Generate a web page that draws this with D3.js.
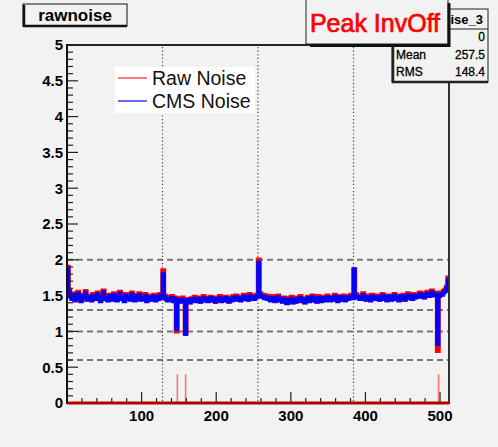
<!DOCTYPE html>
<html>
<head>
<meta charset="utf-8">
<script src="https://cdn.jsdelivr.net/npm/d3@7"></script>
<style>
  body { margin: 0; background: #f2f2f2; }
  svg { display: block; font-family: "Liberation Sans", Arial, sans-serif; }
</style>
</head>
<body>
<svg width="498" height="447"></svg>
<script>
// each bin covers 2 strips (512 strips -> 256 bins)
let binWidth = 2;
let rawNoise = [
  1.90, 1.58, 1.50, 1.46, 1.53, 1.44, 1.49, 1.55, 1.47, 1.43, 1.51, 1.48, 1.56, 1.45, 1.50, 1.47,
  1.44, 1.52, 1.49, 1.46, 1.54, 1.47, 1.43, 1.50, 1.57, 1.46, 1.49, 1.44, 1.51, 1.48, 1.45, 1.53,
  1.48, 1.44, 1.50, 1.55, 1.46, 1.49, 1.43, 1.52, 1.47, 1.50, 1.45, 1.54, 1.48, 1.44, 1.51, 1.47,
  1.53, 1.45, 1.49, 1.46, 1.52, 1.43, 1.48, 1.50, 1.45, 1.47, 1.51, 1.44, 1.49, 1.46, 1.52, 1.48,
  1.85, 1.50, 1.46, 1.44, 1.48, 1.45, 1.49, 1.43, 1.47, 1.00, 1.46, 1.42, 1.44, 1.47, 1.43, 0.98,
  1.42, 1.45, 1.41, 1.46, 1.44, 1.48, 1.43, 1.47, 1.45, 1.42, 1.46, 1.49, 1.44, 1.47, 1.43, 1.46,
  1.48, 1.44, 1.46, 1.42, 1.47, 1.45, 1.49, 1.43, 1.46, 1.44, 1.48, 1.45, 1.42, 1.47, 1.44, 1.49,
  1.46, 1.50, 1.45, 1.48, 1.44, 1.47, 1.51, 1.46, 1.49, 1.45, 1.52, 1.47, 1.50, 1.46, 1.49, 1.51,
  2.00, 1.53, 1.49, 1.51, 1.47, 1.50, 1.46, 1.48, 1.44, 1.49, 1.45, 1.43, 1.47, 1.50, 1.44, 1.46,
  1.42, 1.47, 1.44, 1.40, 1.46, 1.43, 1.48, 1.41, 1.45, 1.42, 1.47, 1.44, 1.49, 1.43, 1.46, 1.41,
  1.45, 1.48, 1.43, 1.46, 1.50, 1.44, 1.47, 1.42, 1.49, 1.45, 1.43, 1.48, 1.46, 1.44, 1.50, 1.47,
  1.44, 1.48, 1.45, 1.51, 1.46, 1.43, 1.49, 1.47, 1.45, 1.50, 1.44, 1.48, 1.46, 1.49, 1.51, 1.47,
  1.86, 1.52, 1.48, 1.50, 1.46, 1.49, 1.53, 1.47, 1.45, 1.50, 1.48, 1.44, 1.51, 1.47, 1.49, 1.46,
  1.50, 1.45, 1.48, 1.52, 1.46, 1.49, 1.44, 1.50, 1.47, 1.45, 1.49, 1.52, 1.46, 1.48, 1.44, 1.50,
  1.47, 1.51, 1.45, 1.49, 1.53, 1.47, 1.50, 1.46, 1.52, 1.48, 1.51, 1.49, 1.54, 1.50, 1.53, 1.48,
  1.52, 1.55, 1.50, 1.53, 1.57, 1.51, 1.54, 1.52, 0.73, 1.50, 1.54, 1.52, 1.56, 1.58, 1.62, 1.75
];
let cmsNoise = [
  1.87, 1.55, 1.48, 1.45, 1.51, 1.43, 1.47, 1.53, 1.46, 1.42, 1.49, 1.47, 1.54, 1.44, 1.48, 1.46,
  1.43, 1.50, 1.48, 1.45, 1.52, 1.46, 1.42, 1.48, 1.55, 1.45, 1.47, 1.43, 1.50, 1.47, 1.44, 1.51,
  1.47, 1.43, 1.48, 1.53, 1.45, 1.47, 1.42, 1.50, 1.46, 1.48, 1.44, 1.52, 1.47, 1.43, 1.49, 1.46,
  1.51, 1.44, 1.47, 1.45, 1.50, 1.42, 1.47, 1.48, 1.44, 1.46, 1.49, 1.43, 1.48, 1.45, 1.50, 1.47,
  1.80, 1.48, 1.45, 1.43, 1.46, 1.44, 1.47, 1.42, 1.46, 1.03, 1.44, 1.41, 1.43, 1.45, 1.42, 0.96,
  1.41, 1.44, 1.40, 1.45, 1.43, 1.46, 1.42, 1.46, 1.44, 1.41, 1.45, 1.47, 1.43, 1.46, 1.42, 1.45,
  1.47, 1.43, 1.45, 1.41, 1.46, 1.44, 1.47, 1.42, 1.45, 1.43, 1.47, 1.44, 1.41, 1.46, 1.43, 1.47,
  1.45, 1.48, 1.44, 1.47, 1.43, 1.46, 1.49, 1.45, 1.48, 1.44, 1.50, 1.46, 1.48, 1.45, 1.47, 1.49,
  1.96, 1.51, 1.48, 1.49, 1.46, 1.48, 1.45, 1.47, 1.43, 1.47, 1.44, 1.42, 1.46, 1.48, 1.43, 1.45,
  1.41, 1.46, 1.43, 1.39, 1.45, 1.42, 1.46, 1.40, 1.44, 1.41, 1.46, 1.43, 1.47, 1.42, 1.45, 1.40,
  1.44, 1.47, 1.42, 1.45, 1.48, 1.43, 1.46, 1.41, 1.47, 1.44, 1.42, 1.47, 1.45, 1.43, 1.48, 1.46,
  1.43, 1.47, 1.44, 1.49, 1.45, 1.42, 1.48, 1.46, 1.44, 1.48, 1.43, 1.47, 1.45, 1.48, 1.49, 1.46,
  1.87, 1.50, 1.47, 1.48, 1.45, 1.48, 1.51, 1.46, 1.44, 1.48, 1.47, 1.43, 1.49, 1.46, 1.48, 1.45,
  1.48, 1.44, 1.47, 1.50, 1.45, 1.48, 1.43, 1.49, 1.46, 1.44, 1.48, 1.50, 1.45, 1.47, 1.43, 1.49,
  1.46, 1.49, 1.44, 1.48, 1.51, 1.46, 1.49, 1.45, 1.50, 1.47, 1.49, 1.48, 1.52, 1.49, 1.51, 1.47,
  1.51, 1.53, 1.49, 1.52, 1.55, 1.50, 1.52, 1.51, 0.82, 1.49, 1.52, 1.51, 1.54, 1.56, 1.60, 1.72
];
// flagged strips drawn as thin bars at the bottom
let flagStrips = [148, 159, 498];
let flagHeight = 0.4;
let baselineValue = 0;
// dashed horizontal reference levels, dotted vertical chip boundaries
let hLevels = [2, 1.3, 1, 0.6];
let vLevels = [128, 256, 384];
let xTickLabels = [100, 200, 300, 400, 500];
let yTickLabels = [0, 0.5, 1, 1.5, 2, 2.5, 3, 3.5, 4, 4.5, 5];
let legendLabels = ["Raw Noise", "CMS Noise"];
let statsRows = [["Entries", "0"], ["Mean", "257.5"], ["RMS", "148.4"]];

let svg = d3.select("svg");
let plotLeft = 67, plotRight = 449, plotTop = 45, plotBottom = 403;

let x = d3.scaleLinear().domain([0, 512]).range([plotLeft, plotRight]);
let y = d3.scaleLinear().domain([0, 5]).range([plotBottom, plotTop]);

// frame
svg.append("rect").attr("x", plotLeft).attr("y", plotTop)
  .attr("width", plotRight - plotLeft).attr("height", plotBottom - plotTop)
  .attr("fill", "#f2f2f2");

// grid
svg.selectAll(".hgrid").data(hLevels).enter().append("line")
  .attr("x1", plotLeft).attr("x2", plotRight)
  .attr("y1", d => y(d)).attr("y2", d => y(d))
  .attr("stroke", "#777").attr("stroke-width", 2).attr("stroke-dasharray", "6,4");
svg.selectAll(".vgrid").data(vLevels).enter().append("line")
  .attr("x1", d => x(d)).attr("x2", d => x(d))
  .attr("y1", plotTop + 2).attr("y2", plotBottom)
  .attr("stroke", "#444").attr("stroke-width", 1.2).attr("stroke-dasharray", "1.2,2.4");

// histogram helper: step outline over bins
function histPoints(vals) {
  let pts = [];
  vals.forEach(function(v, i) {
    pts.push([i * binWidth, v]);
    pts.push([(i + 1) * binWidth, v]);
  });
  return pts;
}
let line = d3.line().x(d => x(d[0])).y(d => y(d[1]));

svg.append("path").datum(histPoints(rawNoise)).attr("d", line)
  .attr("fill", "none").attr("stroke", "#ff0000").attr("stroke-width", 4.4)
  .attr("stroke-linejoin", "miter");
svg.append("path").datum(histPoints(cmsNoise)).attr("d", line)
  .attr("fill", "none").attr("stroke", "#0000ff").attr("stroke-width", 3.6)
  .attr("stroke-linejoin", "miter");

// flagged strips
svg.selectAll(".flag").data(flagStrips).enter().append("line")
  .attr("x1", d => x(d)).attr("x2", d => x(d))
  .attr("y1", y(0)).attr("y2", y(flagHeight))
  .attr("stroke", "#ff7070").attr("stroke-width", 1.6);

// axes frame lines
svg.append("line").attr("x1", plotLeft).attr("x2", plotRight).attr("y1", plotTop).attr("y2", plotTop)
  .attr("stroke", "#222").attr("stroke-width", 2);
svg.append("line").attr("x1", plotRight).attr("x2", plotRight).attr("y1", plotTop - 1).attr("y2", plotBottom + 1)
  .attr("stroke", "#333").attr("stroke-width", 2);
svg.append("line").attr("x1", plotLeft).attr("x2", plotLeft).attr("y1", plotTop - 1).attr("y2", plotBottom + 1)
  .attr("stroke", "#111").attr("stroke-width", 2);

// y ticks (inside frame)
let yMinor = d3.range(0, 50).map(d => d / 10);
svg.selectAll(".ymin").data(yMinor).enter().append("line")
  .attr("x1", plotLeft).attr("x2", d => plotLeft + (Math.abs(d * 2 - Math.round(d * 2)) < 1e-6 ? 11 : 6))
  .attr("y1", d => y(d)).attr("y2", d => y(d))
  .attr("stroke", "#222").attr("stroke-width", 1.2);
svg.selectAll(".ylab").data(yTickLabels).enter().append("text")
  .attr("x", plotLeft - 4).attr("y", d => y(d)).attr("dy", "0.36em")
  .attr("text-anchor", "end").attr("font-size", 15).attr("font-weight", "bold")
  .text(d => d);

// x ticks
let xMinor = d3.range(20, 512, 20);
svg.selectAll(".xmin").data(xMinor).enter().append("line")
  .attr("x1", d => x(d)).attr("x2", d => x(d))
  .attr("y1", plotBottom).attr("y2", d => plotBottom - (d % 100 === 0 ? 11 : 5))
  .attr("stroke", "#222").attr("stroke-width", 1.2);
svg.selectAll(".xlab").data(xTickLabels).enter().append("text")
  .attr("x", d => x(d)).attr("y", 421)
  .attr("text-anchor", "middle").attr("font-size", 15).attr("font-weight", "bold")
  .text(d => d);

// baseline histogram (dark red at zero)
svg.append("line").attr("x1", x(0)).attr("x2", x(512))
  .attr("y1", y(baselineValue)).attr("y2", y(baselineValue))
  .attr("stroke", "#b00000").attr("stroke-width", 3);

// legend
let lg = svg.append("g").attr("transform", "translate(115,67)");
lg.append("rect").attr("width", 140).attr("height", 46).attr("fill", "#fff");
let legendColors = ["#ff4d4d", "#3a3aff"];
legendLabels.forEach(function(l, i) {
  lg.append("line").attr("x1", 3).attr("x2", 32).attr("y1", 11 + i * 23).attr("y2", 11 + i * 23)
    .attr("stroke", legendColors[i]).attr("stroke-width", 1.5);
  lg.append("text").attr("x", 37).attr("y", 11 + i * 23).attr("dy", "0.36em")
    .attr("font-size", 19.5).attr("fill", "#111").text(l);
});

// title box
svg.append("rect").attr("x", 23).attr("y", 4).attr("width", 104).attr("height", 22)
  .attr("fill", "#f2f2f2").attr("stroke", "#111").attr("stroke-width", 1);
svg.append("line").attr("x1", 24).attr("x2", 24).attr("y1", 5).attr("y2", 27)
  .attr("stroke", "#111").attr("stroke-width", 2.5);
svg.append("line").attr("x1", 23).attr("x2", 127).attr("y1", 26).attr("y2", 26)
  .attr("stroke", "#111").attr("stroke-width", 2.5);
svg.append("text").attr("x", 75).attr("y", 20.5).attr("text-anchor", "middle")
  .attr("font-size", 17).attr("font-weight", "bold").text("rawnoise");

// stats box (left part is hidden under the Peak InvOff label)
let sb = svg.append("g").attr("transform", "translate(392,9)");
sb.append("clipPath").attr("id", "statsClip").append("rect")
  .attr("x", 58).attr("y", 0).attr("width", 40).attr("height", 40);
sb.append("rect").attr("width", 96).attr("height", 73)
  .attr("fill", "#f2f2f2").attr("stroke", "#222").attr("stroke-width", 1);
sb.append("line").attr("x1", 1).attr("x2", 1).attr("y1", 2).attr("y2", 74)
  .attr("stroke", "#222").attr("stroke-width", 2.5);
sb.append("line").attr("x1", 0).attr("x2", 96).attr("y1", 73).attr("y2", 73)
  .attr("stroke", "#222").attr("stroke-width", 2.5);
sb.append("line").attr("x1", 0).attr("x2", 96).attr("y1", 20).attr("y2", 20)
  .attr("stroke", "#222").attr("stroke-width", 1.2);
sb.append("text").attr("x", 91).attr("y", 15).attr("text-anchor", "end")
  .attr("clip-path", "url(#statsClip)")
  .attr("font-size", 13).attr("font-weight", "bold").text("rawnoise_3");
statsRows.forEach(function(r, i) {
  let lab = sb.append("text").attr("x", 4).attr("y", 32 + i * 17.5).attr("font-size", 12)
    .attr("stroke", "#000").attr("stroke-width", 0.3).text(r[0]);
  if (i === 0) lab.attr("clip-path", "url(#statsClip)");
  sb.append("text").attr("x", 93).attr("y", 32 + i * 17.5).attr("text-anchor", "end")
    .attr("font-size", 12).attr("stroke", "#000").attr("stroke-width", 0.3).text(r[1]);
});

// Peak InvOff box
svg.append("rect").attr("x", 306).attr("y", -2).attr("width", 142).attr("height", 46)
  .attr("fill", "#f2f2f2").attr("stroke", "#222").attr("stroke-width", 1);
svg.append("line").attr("x1", 449).attr("x2", 449).attr("y1", 3).attr("y2", 47)
  .attr("stroke", "#111").attr("stroke-width", 3);
svg.append("line").attr("x1", 310).attr("x2", 450).attr("y1", 45.5).attr("y2", 45.5)
  .attr("stroke", "#111").attr("stroke-width", 3);
svg.append("text").attr("x", 375).attr("y", 32).attr("text-anchor", "middle")
  .attr("font-size", 25).attr("fill", "#ff0000")
  .attr("stroke", "#ff0000").attr("stroke-width", 0.7).text("Peak InvOff");
</script>
</body>
</html>
